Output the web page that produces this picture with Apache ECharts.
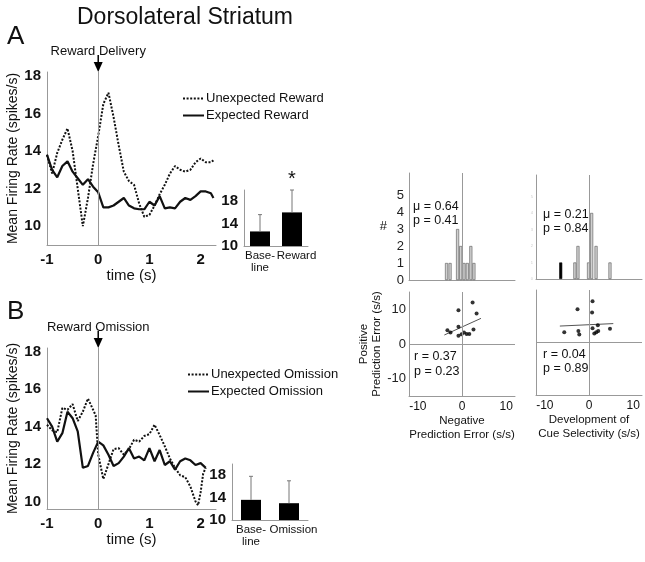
<!DOCTYPE html>
<html><head><meta charset="utf-8">
<script src="https://cdn.jsdelivr.net/npm/echarts@6/dist/echarts.min.js"></script>
<style>html,body{margin:0;padding:0;background:#fff}#c{width:645px;height:562px}</style>
</head><body><div id="c"></div>
<script>
// ---------- data ----------
const timesA = [-1,-0.9,-0.8,-0.7,-0.6,-0.5,-0.4,-0.3,-0.2,-0.1,0,0.1,0.2,0.3,0.4,0.5,0.6,0.7,0.8,0.9,1,1.1,1.2,1.3,1.4,1.5,1.6,1.7,1.8,1.9,2,2.1,2.2,2.25];
const unexpectedReward = [13.8,12.8,13.9,14.6,15.2,14.0,12.0,10.0,11.5,13.3,14.8,16.5,17.1,15.8,14.3,12.9,12.4,12.2,11.2,10.5,10.6,11.1,11.7,12.2,12.8,13.2,13.0,12.9,13.0,13.4,13.6,13.4,13.4,13.5];
const expectedReward = [13.8,13.0,12.6,13.2,13.45,12.9,12.55,12.2,12.5,12.1,11.8,11.0,11.0,11.1,11.3,11.5,11.1,10.95,10.9,10.9,11.3,11.1,11.6,10.95,11.0,10.95,11.3,11.5,11.4,11.6,11.85,11.85,11.75,11.5];

const timesBExp = [-1,-0.9,-0.8,-0.7,-0.6,-0.5,-0.4,-0.3,-0.2,-0.1,0,0.1,0.2,0.3,0.4,0.5,0.6,0.7,0.8,0.9,1,1.1,1.2,1.3,1.4,1.5,1.6,1.7,1.8,1.9,2,2.1];
const expectedOmission = [14.45,14.0,13.2,13.65,14.8,14.45,13.75,11.8,11.9,12.6,13.2,13.0,12.5,11.9,12.05,12.4,12.85,12.3,12.4,12.2,12.85,12.15,12.75,11.95,12.15,11.7,12.15,12.3,12.2,11.95,12.05,11.8];
const timesBUnexp = [-1,-0.9,-0.8,-0.7,-0.6,-0.5,-0.4,-0.3,-0.2,-0.1,-0.05,0,0.1,0.2,0.3,0.4,0.5,0.6,0.7,0.8,0.9,1,1.1,1.2,1.3,1.4,1.5,1.6,1.7,1.8,1.9,1.95,2,2.05,2.1];
const unexpectedOmission = [14.1,13.8,13.7,15.0,14.9,15.2,14.3,14.8,15.5,14.9,14.6,12.5,11.2,12.0,12.8,12.85,12.5,12.8,13.3,13.2,13.5,13.6,14.1,13.55,12.95,12.3,11.8,11.4,11.3,10.8,10.0,9.8,10.5,11.5,11.8];

const barCatsA = ['Base-\nline', 'Reward'];
const barMeansA = [12.6, 16.0];
const barErrTopA = [15.6, 20.0];
const barStarsA = ['', '*'];
const barCatsB = ['Base-\nline', 'Omission'];
const barMeansB = [13.6, 13.0];
const barErrTopB = [17.8, 17.0];
const barStarsB = ['', ''];

const histNegX = [-3.5,-2.7,-1.0,-0.3,0.45,1.2,2.0,2.7];
const histNegCount = [1,1,3,2,1,1,2,1];
const histCueX = [-6.4,-3.2,-2.5,-0.1,0.6,1.6,4.75];
const histCueCount = [1,1,2,1,4,2,1];
const histCueBlack = [true,false,false,false,false,false,false];

const scatNegX = [-3.3,-2.6,-0.8,-0.8,-0.8,-0.1,0.45,1.05,1.65,2.4,2.6,3.3];
const scatNegY = [4.0,3.3,9.7,5.0,2.4,2.8,3.3,2.9,2.9,12.0,4.2,8.8];
const fitNegX = [-4.0, 4.3];
const fitNegY = [2.6, 7.4];
const scatCueX = [-5.6,-2.6,-2.4,-2.2,0.8,0.7,0.8,1.2,1.65,2.0,2.1,4.75];
const scatCueY = [2.9,9.5,3.3,2.3,11.8,8.6,4.1,2.6,2.9,4.9,3.3,3.9];
const fitCueX = [-6.6, 5.5];
const fitCueY = [4.7, 5.4];

const tickLabelsLineX = [-1, 0, 1, 2];
const tickLabelsLineY = [10, 12, 14, 16, 18];
const tickLabelsBarY = [10, 14, 18];
const tickLabelsScatX = [-10, 0, 10];
const tickLabelsScatY = [-10, 0, 10];

// ---------- helpers ----------
const FONT = "'Liberation Sans', Arial, sans-serif";
const INK = '#111';
const AX = '#999';
const pairs = (xs, ys) => xs.map((x, i) => [x, ys[i]]);
const onlyIn = list => v => list.indexOf(Math.round(v * 1000) / 1000) >= 0 ? String(v) : '';

const chart = echarts.init(document.getElementById('c'));

const grids = [
  {left: 47, top: 72, width: 169, height: 173},   // 0 A line
  {left: 244, top: 190, width: 64, height: 56},   // 1 A bar
  {left: 47, top: 348, width: 169, height: 161},  // 2 B line
  {left: 232, top: 464, width: 76, height: 56},   // 3 B bar
  {left: 409, top: 173, width: 106, height: 107}, // 4 hist neg
  {left: 536, top: 175, width: 106, height: 104}, // 5 hist cue
  {left: 409, top: 292, width: 106, height: 104}, // 6 scatter neg
  {left: 536, top: 290, width: 106, height: 105}  // 7 scatter cue
].map(g => Object.assign({containLabel: false, outerBoundsMode: 'none'}, g));

function lineXAxis(gi) {
  return {gridIndex: gi, type: 'value', min: -1, max: 2.3, interval: 1,
    axisLine: {show: true, onZero: false, lineStyle: {color: AX, width: 1}},
    axisTick: {show: false}, splitLine: {show: false},
    axisLabel: {fontFamily: FONT, fontWeight: 'bold', fontSize: 15, color: INK, margin: 7,
      formatter: onlyIn(tickLabelsLineX), showMaxLabel: false},
    name: 'time (s)', nameLocation: 'middle', nameGap: 21,
    nameTextStyle: {fontFamily: FONT, fontSize: 15, color: INK, verticalAlign: 'top'}};
}
function lineYAxis(gi, min) {
  return {gridIndex: gi, type: 'value', min: min, max: 18.2, interval: 0.2,
    axisLine: {show: true, onZero: false, lineStyle: {color: AX, width: 1}},
    axisTick: {show: false}, splitLine: {show: false},
    axisLabel: {fontFamily: FONT, fontWeight: 'bold', fontSize: 15, color: INK, margin: 6,
      formatter: onlyIn(tickLabelsLineY), showMaxLabel: false, interval: 0, hideOverlap: false},
    name: 'Mean Firing Rate (spikes/s)', nameLocation: 'middle', nameGap: 26,
    nameTextStyle: {fontFamily: FONT, fontSize: 14, color: INK}};
}
function barXAxis(gi, cats) {
  return {gridIndex: gi, type: 'category', data: cats,
    axisLine: {show: true, lineStyle: {color: AX}}, axisTick: {show: false},
    axisLabel: {interval: 0, fontFamily: FONT, fontSize: 11.5, color: INK, margin: 4, lineHeight: 12,
      formatter: v => (v === 'Reward' || v === 'Omission') ? '{r|' + v + '}' : v,
      rich: {r: {fontFamily: FONT, fontSize: 11.5, color: INK, padding: [0, 0, 0, 9]}}}};
}
function barYAxis(gi) {
  return {gridIndex: gi, type: 'value', min: 10, max: 20, interval: 2,
    axisLine: {show: true, lineStyle: {color: AX}}, axisTick: {show: false}, splitLine: {show: false},
    axisLabel: {fontFamily: FONT, fontWeight: 'bold', fontSize: 15, color: INK, margin: 6,
      formatter: onlyIn(tickLabelsBarY)}};
}
function rightXAxis(gi, showLabels, name) {
  return {gridIndex: gi, type: 'value', min: -12, max: 12, interval: 2,
    axisLine: {show: true, onZero: false, lineStyle: {color: AX}}, axisTick: {show: false}, splitLine: {show: false},
    axisLabel: {show: showLabels, fontFamily: FONT, fontSize: 12, color: INK, margin: 5,
      formatter: onlyIn(tickLabelsScatX)},
    name: name || '', nameLocation: 'middle', nameGap: 18,
    nameTextStyle: {fontFamily: FONT, fontSize: 11.5, color: INK, lineHeight: 14, verticalAlign: 'top'}};
}

const xAxis = [lineXAxis(0), barXAxis(1, barCatsA), lineXAxis(2), barXAxis(3, barCatsB),
  rightXAxis(4, false), rightXAxis(5, false),
  rightXAxis(6, true, 'Negative\nPrediction Error (s/s)'),
  rightXAxis(7, true, 'Development of\nCue Selectivity (s/s)')];

const yAxis = [lineYAxis(0, 9), barYAxis(1), lineYAxis(2, 9.6), barYAxis(3),
  {gridIndex: 4, type: 'value', min: 0, max: 6.3, interval: 1,
    axisLine: {show: true, onZero: false, lineStyle: {color: AX}}, axisTick: {show: false}, splitLine: {show: false},
    axisLabel: {fontFamily: FONT, fontSize: 13, color: '#222', margin: 5, formatter: v => (v <= 5 && Number.isInteger(v)) ? String(v) : ''},
    name: '#', nameLocation: 'middle', nameRotate: 0, nameGap: 22,
    nameTextStyle: {fontFamily: FONT, fontSize: 13, color: INK}},
  {gridIndex: 5, type: 'value', min: 0, max: 6.3, interval: 1,
    axisLine: {show: true, onZero: false, lineStyle: {color: AX}}, axisTick: {show: false}, splitLine: {show: false},
    axisLabel: {fontFamily: FONT, fontSize: 4, color: '#ccc', margin: 3, formatter: v => (v <= 5 && Number.isInteger(v)) ? String(v) : ''}},
  {gridIndex: 6, type: 'value', min: -15, max: 15, interval: 5,
    axisLine: {show: true, onZero: false, lineStyle: {color: AX}}, axisTick: {show: false}, splitLine: {show: false},
    axisLabel: {fontFamily: FONT, fontSize: 13, color: '#222', margin: 3, formatter: onlyIn(tickLabelsScatY)},
    name: 'Positive\nPrediction Error (s/s)', nameLocation: 'middle', nameGap: 16,
    nameTextStyle: {fontFamily: FONT, fontSize: 11.5, color: INK, lineHeight: 13}},
  {gridIndex: 7, type: 'value', min: -15, max: 15, interval: 5,
    axisLine: {show: true, onZero: false, lineStyle: {color: AX}}, axisTick: {show: false}, splitLine: {show: false},
    axisLabel: {show: false}}
];

const vline0 = {silent: true, symbol: 'none', label: {show: false}, animation: false,
  lineStyle: {color: AX, width: 1, type: 'solid'}, data: [{xAxis: 0}]};
const cross0 = {silent: true, symbol: 'none', label: {show: false}, animation: false,
  lineStyle: {color: AX, width: 1, type: 'solid'}, data: [{xAxis: 0}, {yAxis: 0}]};

const dotted = {color: INK, width: 2, type: [2, 1.6]};
const solid = {color: INK, width: 2.2, type: 'solid'};

function errSeries(gi, means, tops, stars) {
  return {type: 'custom', xAxisIndex: gi, yAxisIndex: gi, z: 5,
    data: means.map((m, i) => [i, tops[i], m]),
    renderItem: (params, api) => {
      const i = api.value(0);
      const p0 = api.coord([i, api.value(2)]);
      const p1 = api.coord([i, api.value(1)]);
      const ch = [
        {type: 'line', shape: {x1: p0[0], y1: p0[1], x2: p1[0], y2: p1[1]}, style: {stroke: '#777', lineWidth: 1}},
        {type: 'line', shape: {x1: p1[0] - 2, y1: p1[1], x2: p1[0] + 2, y2: p1[1]}, style: {stroke: '#777', lineWidth: 1}}
      ];
      const s = stars[params.dataIndex];
      if (s) ch.push({type: 'text', style: {text: s, x: p1[0], y: p1[1] - 1, align: 'center', verticalAlign: 'bottom', font: '20px ' + FONT, fill: INK}});
      return {type: 'group', children: ch};
    }};
}

function histSeries(gi, xs, hs, blacks) {
  return {type: 'bar', xAxisIndex: gi, yAxisIndex: gi, barWidth: 3, z: 3,
    data: xs.map((x, i) => (blacks && blacks[i]) ?
      {value: [x, hs[i]], itemStyle: {color: '#000', borderColor: '#000'}} : [x, hs[i]]),
    itemStyle: {color: '#d0d0d0', borderColor: '#555', borderWidth: 0.6},
    markLine: vline0};
}

const series = [
  {name: 'Unexpected Reward', type: 'line', xAxisIndex: 0, yAxisIndex: 0, symbol: 'none', lineStyle: dotted, itemStyle: {color: INK},
    data: pairs(timesA, unexpectedReward), markLine: vline0, z: 4},
  {name: 'Expected Reward', type: 'line', xAxisIndex: 0, yAxisIndex: 0, symbol: 'none', lineStyle: solid, itemStyle: {color: INK},
    data: pairs(timesA, expectedReward), z: 4},
  {type: 'bar', xAxisIndex: 1, yAxisIndex: 1, barWidth: 20, data: barMeansA, itemStyle: {color: '#000'}},
  errSeries(1, barMeansA, barErrTopA, barStarsA),
  {name: 'Unexpected Omission', type: 'line', xAxisIndex: 2, yAxisIndex: 2, symbol: 'none', lineStyle: dotted, itemStyle: {color: INK},
    data: pairs(timesBUnexp, unexpectedOmission), markLine: vline0, z: 4},
  {name: 'Expected Omission', type: 'line', xAxisIndex: 2, yAxisIndex: 2, symbol: 'none', lineStyle: solid, itemStyle: {color: INK},
    data: pairs(timesBExp, expectedOmission), z: 4},
  {type: 'bar', xAxisIndex: 3, yAxisIndex: 3, barWidth: 20, data: barMeansB, itemStyle: {color: '#000'}},
  errSeries(3, barMeansB, barErrTopB, barStarsB),
  histSeries(4, histNegX, histNegCount),
  histSeries(5, histCueX, histCueCount, histCueBlack),
  {type: 'scatter', xAxisIndex: 6, yAxisIndex: 6, symbolSize: 4, itemStyle: {color: '#000'},
    data: pairs(scatNegX, scatNegY), markLine: cross0, z: 4},
  {type: 'line', xAxisIndex: 6, yAxisIndex: 6, symbol: 'none', lineStyle: {color: '#555', width: 1},
    data: pairs(fitNegX, fitNegY), z: 3},
  {type: 'scatter', xAxisIndex: 7, yAxisIndex: 7, symbolSize: 4, itemStyle: {color: '#000'},
    data: pairs(scatCueX, scatCueY), markLine: cross0, z: 4},
  {type: 'line', xAxisIndex: 7, yAxisIndex: 7, symbol: 'none', lineStyle: {color: '#555', width: 1},
    data: pairs(fitCueX, fitCueY), z: 3}
];

const legendBase = {orient: 'vertical', itemWidth: 21, itemHeight: 10, itemGap: 4,
  itemStyle: {opacity: 0},
  textStyle: {fontFamily: FONT, fontSize: 13, color: INK, padding: [0, 0, 0, -3]}, selectedMode: false};

function txt(text, x, y, size, opts) {
  return Object.assign({type: 'text', x: x, y: y, silent: true,
    style: Object.assign({text: text, font: size + 'px ' + FONT, fill: INK, align: 'left', verticalAlign: 'middle'}, opts || {})});
}

chart.setOption({
  animation: false,
  backgroundColor: '#fff',
  grid: grids,
  xAxis: xAxis,
  yAxis: yAxis,
  legend: [
    Object.assign({data: ['Unexpected Reward', 'Expected Reward'], left: 177, top: 87}, legendBase),
    Object.assign({data: ['Unexpected Omission', 'Expected Omission'], left: 182, top: 363}, legendBase)
  ],
  series: series
});

// annotations anchored to the axes
function arrowAt(gi, label) {
  const p = chart.convertToPixel({gridIndex: gi}, [0, 18.2]);
  const x = p[0], top = p[1];
  return [
    {type: 'line', silent: true, shape: {x1: x, y1: top - 17, x2: x, y2: top - 8}, style: {stroke: '#000', lineWidth: 1.5}},
    {type: 'polygon', silent: true, shape: {points: [[x - 4.5, top - 10], [x + 4.5, top - 10], [x, top]]}, style: {fill: '#000'}},
    txt(label, x, top - 21, 13, {align: 'center'})
  ];
}

chart.setOption({
  graphic: [].concat(
    [txt('Dorsolateral Striatum', 185, 18, 23, {align: 'center'}),
     txt('A', 7, 37, 26),
     txt('B', 7, 312, 26),
     txt('\u03bc = 0.64', 413, 207, 12.5),
     txt('p = 0.41', 413, 221, 12.5),
     txt('\u03bc = 0.21', 543, 215, 12.5),
     txt('p = 0.84', 543, 229, 12.5),
     txt('r = 0.37', 414, 357, 12.5),
     txt('p = 0.23', 414, 372, 12.5),
     txt('r = 0.04', 543, 355, 12.5),
     txt('p = 0.89', 543, 369, 12.5)],
    arrowAt(0, 'Reward Delivery'),
    arrowAt(2, 'Reward Omission')
  )
});
</script></body></html>
